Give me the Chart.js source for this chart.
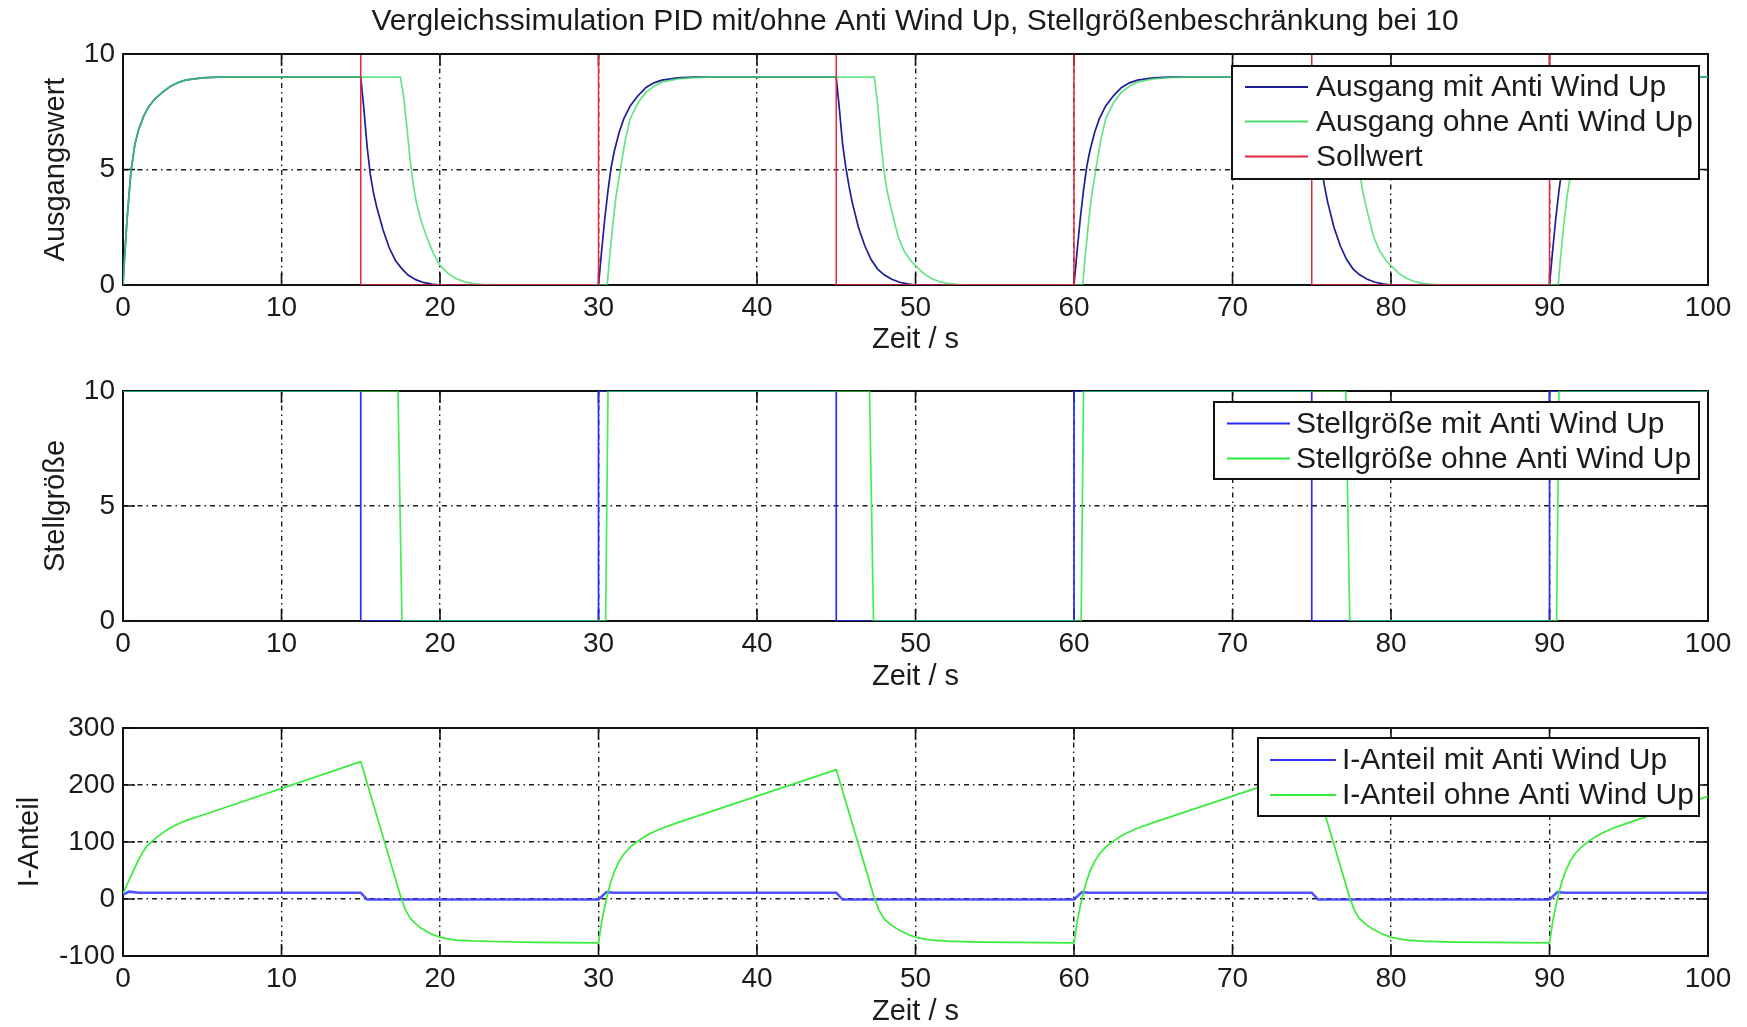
<!DOCTYPE html>
<html>
<head>
<meta charset="utf-8">
<script src="https://cdn.jsdelivr.net/npm/chart.js@4.4.1/dist/chart.umd.min.js"></script>
<style>
  html, body { margin: 0; padding: 0; background: #ffffff; }
  body { width: 1747px; height: 1027px; position: relative; overflow: hidden; }
  canvas { position: absolute; left: 0; }
</style>
</head>
<body>
<canvas id="c1" width="1747" height="362" style="top:0px"></canvas>
<canvas id="c2" width="1747" height="340" style="top:362px"></canvas>
<canvas id="c3" width="1747" height="325" style="top:702px"></canvas>
<script>
// ---- axis ticks ----
const zeitTicks = [0, 10, 20, 30, 40, 50, 60, 70, 80, 90, 100];
const ausgangTicks = [0, 5, 10];
const stellTicks = [0, 5, 10];
const iAnteilTicks = [-100, 0, 100, 200, 300];

// ---- Ausgang (plant output) ----
const tSollwert = [0, 15, 15, 30, 30, 45, 45, 60, 60, 75, 75, 90, 90, 100];
const ySollwert = [10, 10, 0, 0, 10, 10, 0, 0, 10, 10, 0, 0, 10, 10];

const tAusgangMit = [
  0, 0.1, 0.25, 0.5, 0.75, 1, 1.3, 1.6, 2, 2.5, 3, 3.5, 4, 5, 6,
  15, 15.2, 15.4, 15.6, 15.8, 16, 16.4, 16.8, 17.2, 17.6, 18, 18.5, 19, 19.5, 20,
  30, 30.2, 30.4, 30.6, 30.8, 31, 31.3, 31.6, 32, 32.5, 33, 33.5, 34, 35, 36,
  45, 45.2, 45.4, 45.6, 45.8, 46, 46.4, 46.8, 47.2, 47.6, 48, 48.5, 49, 49.5, 50,
  60, 60.2, 60.4, 60.6, 60.8, 61, 61.3, 61.6, 62, 62.5, 63, 63.5, 64, 65, 66,
  75, 75.2, 75.4, 75.6, 75.8, 76, 76.4, 76.8, 77.2, 77.6, 78, 78.5, 79, 79.5, 80,
  90, 90.2, 90.4, 90.6, 90.8, 91, 91.3, 91.6, 92, 92.5, 93, 93.5, 94, 95, 96, 100
];
const yAusgangMit = [
  0, 1.2, 2.8, 4.9, 6.1, 6.75, 7.3, 7.7, 8.05, 8.35, 8.6, 8.77, 8.88, 8.97, 9.0,
  9.0, 7.6, 6.0, 4.8, 4.0, 3.4, 2.4, 1.6, 1.05, 0.7, 0.42, 0.22, 0.1, 0.04, 0,
  0, 1.5, 2.9, 4.1, 5.1, 5.8, 6.6, 7.2, 7.75, 8.2, 8.55, 8.75, 8.87, 8.97, 9.0,
  9.0, 7.6, 6.1, 5.1, 4.3, 3.6, 2.5, 1.7, 1.1, 0.7, 0.45, 0.25, 0.12, 0.05, 0,
  0, 1.5, 2.9, 4.1, 5.1, 5.8, 6.6, 7.2, 7.75, 8.2, 8.55, 8.75, 8.87, 8.97, 9.0,
  9.0, 7.6, 6.1, 5.1, 4.3, 3.6, 2.5, 1.7, 1.1, 0.7, 0.45, 0.25, 0.12, 0.05, 0,
  0, 1.5, 2.9, 4.1, 5.1, 5.8, 6.6, 7.2, 7.75, 8.2, 8.55, 8.75, 8.87, 8.97, 9.0, 9.0
];

const tAusgangOhne = [
  0, 0.1, 0.25, 0.5, 0.75, 1, 1.3, 1.6, 2, 2.5, 3, 3.5, 4, 5, 6,
  17.5, 17.7, 17.9, 18.1, 18.3, 18.5, 18.8, 19.2, 19.6, 20, 20.5, 21, 21.5, 22, 23,
  30.55, 30.7, 30.9, 31.1, 31.4, 31.7, 32, 32.5, 33, 33.5, 34, 35, 36, 37,
  47.4, 47.6, 47.8, 48, 48.2, 48.5, 48.9, 49.3, 49.7, 50, 50.5, 51, 51.5, 52, 53,
  60.55, 60.7, 60.9, 61.1, 61.4, 61.7, 62, 62.5, 63, 63.5, 64, 65, 66, 67,
  77.4, 77.6, 77.8, 78, 78.2, 78.5, 78.9, 79.3, 79.7, 80, 80.5, 81, 81.5, 82, 83,
  90.55, 90.7, 90.9, 91.1, 91.4, 91.7, 92, 92.5, 93, 93.5, 94, 95, 96, 97, 100
];
const yAusgangOhne = [
  0, 1.2, 2.8, 4.9, 6.1, 6.75, 7.3, 7.7, 8.05, 8.35, 8.6, 8.77, 8.88, 8.97, 9.0,
  9.0, 8.2, 6.9, 5.5, 4.4, 3.6, 2.8, 2.0, 1.35, 0.85, 0.5, 0.28, 0.15, 0.07, 0,
  0, 1.2, 2.6, 3.8, 5.1, 6.3, 7.2, 7.9, 8.35, 8.6, 8.78, 8.92, 8.98, 9.0,
  9.0, 7.9, 6.3, 5.0, 4.1, 3.2, 2.1, 1.45, 1.05, 0.84, 0.5, 0.28, 0.15, 0.07, 0,
  0, 1.2, 2.6, 3.8, 5.1, 6.3, 7.2, 7.9, 8.35, 8.6, 8.78, 8.92, 8.98, 9.0,
  9.0, 7.9, 6.3, 5.0, 4.1, 3.2, 2.1, 1.45, 1.05, 0.84, 0.5, 0.28, 0.15, 0.07, 0,
  0, 1.2, 2.6, 3.8, 5.1, 6.3, 7.2, 7.9, 8.35, 8.6, 8.78, 8.92, 8.98, 9.0, 9.0
];

// ---- Stellgröße (controller output, limited to 10) ----
const tStellMit = [0, 15, 15, 30, 30, 45, 45, 60, 60, 75, 75, 90, 90, 100];
const yStellMit = [10, 10, 0, 0, 10, 10, 0, 0, 10, 10, 0, 0, 10, 10];
const tStellOhne = [0, 17.35, 17.6, 30.45, 30.6, 47.1, 47.35, 60.45, 60.6, 77.15, 77.4, 90.45, 90.6, 100];
const yStellOhne = [10, 10, 0, 0, 10, 10, 0, 0, 10, 10, 0, 0, 10, 10];

// ---- I-Anteil (integral part) ----
const tIMit = [0, 0.4, 1, 15, 15.4, 30, 30.5, 31, 45, 45.4, 60, 60.5, 61, 75, 75.4, 90, 90.5, 91, 100];
const yIMit = [8, 13, 11, 11, -1, -1, 12, 11, 11, -1, -1, 12, 11, 11, -1, -1, 12, 11, 11];

const tIOhne = [
  0, 0.25, 0.5, 0.75, 1, 1.25, 1.5, 2, 2.5, 3, 3.5, 4, 5, 15,
  17.5, 17.8, 18.1, 18.4, 18.8, 19.2, 19.6, 20, 20.5, 21, 22, 24, 26, 28,
  30, 30.2, 30.4, 30.6, 30.8, 31, 31.3, 31.6, 32, 32.5, 33, 33.5, 34, 35, 45,
  47.4, 47.7, 48, 48.4, 48.8, 49.2, 49.6, 50, 50.5, 51, 52, 54, 56, 58,
  60, 60.2, 60.4, 60.6, 60.8, 61, 61.3, 61.6, 62, 62.5, 63, 63.5, 64, 65, 75,
  77.4, 77.7, 78, 78.4, 78.8, 79.2, 79.6, 80, 80.5, 81, 82, 84, 86, 88,
  90, 90.2, 90.4, 90.6, 90.8, 91, 91.3, 91.6, 92, 92.5, 93, 93.5, 94, 95, 100
];
const yIOhne = [
  9, 25, 40, 55, 70, 82, 93, 105, 116, 125, 132, 138, 147, 241,
  6, -18, -33, -42, -51, -58, -63, -67, -70, -72, -73.5, -75, -76, -76.5,
  -77, -40, -12, 12, 32, 48, 66, 79, 91, 102, 111, 118, 124, 134, 227,
  2, -20, -34, -44, -52, -58, -63, -67, -70, -72, -74, -75.5, -76, -76.5,
  -77, -40, -12, 12, 32, 48, 66, 79, 91, 102, 111, 118, 124, 134, 227,
  2, -20, -34, -44, -52, -58, -63, -67, -70, -72, -74, -75.5, -76, -76.5,
  -77, -40, -12, 12, 32, 48, 66, 79, 91, 102, 111, 118, 124, 134, 180
];

// ---- drawing helpers ----
const FONT = "'Liberation Sans', Arial, Helvetica, sans-serif";
const TXT = '#1b1b1b';
const pts = (ts, vs) => ts.map((t, i) => ({ x: t, y: vs[i] }));

// Axes box with small inward tick marks (drawn under the curves)
const framePlugin = {
  id: 'frame',
  beforeDatasetsDraw(chart) {
    const { ctx, chartArea: a, scales } = chart;
    ctx.save();
    ctx.strokeStyle = '#111';
    ctx.lineWidth = 2;
    ctx.strokeRect(a.left, a.top, a.right - a.left, a.bottom - a.top);
    ctx.lineWidth = 1.6;
    const tl = 12;
    ctx.beginPath();
    scales.x.ticks.forEach(t => {
      const px = scales.x.getPixelForValue(t.value);
      ctx.moveTo(px, a.bottom); ctx.lineTo(px, a.bottom - tl);
      ctx.moveTo(px, a.top); ctx.lineTo(px, a.top + tl);
    });
    scales.y.ticks.forEach(t => {
      const py = scales.y.getPixelForValue(t.value);
      ctx.moveTo(a.left, py); ctx.lineTo(a.left + tl, py);
      ctx.moveTo(a.right, py); ctx.lineTo(a.right - tl, py);
    });
    ctx.stroke();
    ctx.restore();
  },
  afterDatasetsDraw(chart, args, opts) {
    if (!opts.topOver) return;
    const { ctx, chartArea: a } = chart;
    ctx.save();
    ctx.strokeStyle = '#111';
    ctx.lineWidth = 2;
    ctx.beginPath();
    ctx.moveTo(a.left, a.top); ctx.lineTo(a.right, a.top);
    ctx.stroke();
    ctx.restore();
  }
};

// Boxed legend placed inside the plot area
const boxLegendPlugin = {
  id: 'boxLegend',
  afterDatasetsDraw(chart, args, o) {
    if (!o || !o.box) return;
    const ctx = chart.ctx;
    const [l, t, r, b] = o.box;
    ctx.save();
    ctx.fillStyle = '#ffffff';
    ctx.fillRect(l, t, r - l, b - t);
    ctx.strokeStyle = '#111';
    ctx.lineWidth = 2;
    ctx.strokeRect(l, t, r - l, b - t);
    ctx.font = '30px ' + FONT;
    ctx.textBaseline = 'middle';
    ctx.textAlign = 'left';
    chart.data.datasets.forEach((ds, i) => {
      const y = o.rows[i];
      ctx.strokeStyle = ds.legendColor || ds.borderColor;
      ctx.lineWidth = 2;
      ctx.beginPath();
      ctx.moveTo(o.lineX[0], y); ctx.lineTo(o.lineX[1], y);
      ctx.stroke();
      ctx.fillStyle = TXT;
      ctx.fillText(ds.label, o.textX, y + 1);
    });
    ctx.restore();
  }
};

// Figure title above the first panel
const headerPlugin = {
  id: 'header',
  afterDraw(chart, args, o) {
    if (!o || !o.text) return;
    const ctx = chart.ctx;
    ctx.save();
    ctx.font = '30px ' + FONT;
    ctx.fillStyle = TXT;
    ctx.textAlign = 'center';
    ctx.textBaseline = 'middle';
    ctx.fillText(o.text, o.x, o.y);
    ctx.restore();
  }
};

function panel(id, p) {
  const gridOpts = { color: '#1a1a1a', lineWidth: 1.4, drawTicks: false };
  const borderOpts = { display: false, dash: [5, 4, 1.5, 4] };
  return new Chart(document.getElementById(id), {
    type: 'line',
    data: { datasets: p.datasets },
    options: {
      responsive: false,
      animation: false,
      devicePixelRatio: 1,
      events: [],
      layout: { padding: { top: p.top, right: 39, left: 0, bottom: 0 } },
      elements: { point: { radius: 0 }, line: { tension: 0, borderCapStyle: 'butt' } },
      plugins: {
        legend: { display: false },
        tooltip: { enabled: false },
        title: { display: false },
        boxLegend: p.legend,
        frame: { topOver: !!p.topOver },
        header: p.header || {}
      },
      scales: {
        x: {
          type: 'linear', min: 0, max: 100,
          afterBuildTicks: s => { s.ticks = zeitTicks.map(v => ({ value: v })); },
          afterFit: s => { s.height = p.xh; },
          ticks: { font: { family: FONT, size: 28 }, color: TXT, padding: 6, maxRotation: 0, autoSkip: false },
          grid: gridOpts,
          border: borderOpts,
          title: { display: true, text: 'Zeit / s', color: TXT,
                   font: { family: FONT, size: 29, lineHeight: 1 },
                   padding: { top: 0, bottom: p.xTitlePad } }
        },
        y: {
          type: 'linear', min: p.yTicks[0], max: p.yTicks[p.yTicks.length - 1],
          afterBuildTicks: s => { s.ticks = p.yTicks.map(v => ({ value: v })); },
          afterFit: s => { s.width = 123; },
          ticks: { font: { family: FONT, size: 28 }, color: TXT, padding: 8 },
          grid: gridOpts,
          border: borderOpts,
          title: { display: true, text: p.yTitle, color: TXT,
                   font: { family: FONT, size: 29, lineHeight: 1 },
                   padding: { top: p.yTitlePad, bottom: 0 } }
        }
      }
    },
    plugins: [framePlugin, boxLegendPlugin, headerPlugin]
  });
}

// Panel 1: Ausgangswert
panel('c1', {
  top: 54, xh: 77, xTitlePad: 7.5, yTitle: 'Ausgangswert', yTitlePad: 41.5,
  yTicks: ausgangTicks, topOver: true,
  header: { text: 'Vergleichssimulation PID mit/ohne Anti Wind Up, Stellgrößenbeschränkung bei 10', x: 915, y: 22 },
  legend: { box: [1232, 66, 1699, 179], rows: [87, 121.5, 156.5], lineX: [1245, 1308], textX: 1316 },
  datasets: [
    { label: 'Ausgang mit Anti Wind Up', data: pts(tAusgangMit, yAusgangMit),
      borderColor: '#1e1e96', borderWidth: 1.7, order: 2 },
    { label: 'Ausgang ohne Anti Wind Up', data: pts(tAusgangOhne, yAusgangOhne),
      borderColor: 'rgba(64,220,104,0.8)', legendColor: '#4cdc6c', borderWidth: 1.7, order: 1 },
    { label: 'Sollwert', data: pts(tSollwert, ySollwert),
      borderColor: '#e8283c', borderWidth: 1.5, order: 0 }
  ]
});

// Panel 2: Stellgröße
panel('c2', {
  top: 29, xh: 81, xTitlePad: 11, yTitle: 'Stellgröße', yTitlePad: 41,
  yTicks: stellTicks,
  legend: { box: [1214, 40, 1699, 117], rows: [61.5, 96.5], lineX: [1227, 1290], textX: 1296 },
  datasets: [
    { label: 'Stellgröße mit Anti Wind Up', data: pts(tStellMit, yStellMit),
      borderColor: '#2b2bff', borderWidth: 1.7, order: 1 },
    { label: 'Stellgröße ohne Anti Wind Up', data: pts(tStellOhne, yStellOhne),
      borderColor: 'rgba(40,232,60,0.85)', legendColor: '#2ee83c', borderWidth: 1.7, order: 0 }
  ]
});

// Panel 3: I-Anteil
panel('c3', {
  top: 26, xh: 71, xTitlePad: 1, yTitle: 'I-Anteil', yTitlePad: 15.5,
  yTicks: iAnteilTicks,
  legend: { box: [1258, 36, 1699, 114], rows: [58, 93], lineX: [1270, 1336], textX: 1342 },
  datasets: [
    { label: 'I-Anteil mit Anti Wind Up', data: pts(tIMit, yIMit),
      borderColor: 'rgba(50,50,255,0.85)', legendColor: '#3232ff', borderWidth: 2.6, order: 1 },
    { label: 'I-Anteil ohne Anti Wind Up', data: pts(tIOhne, yIOhne),
      borderColor: '#38ec3c', borderWidth: 1.7, order: 0 }
  ]
});
</script>
</body>
</html>
